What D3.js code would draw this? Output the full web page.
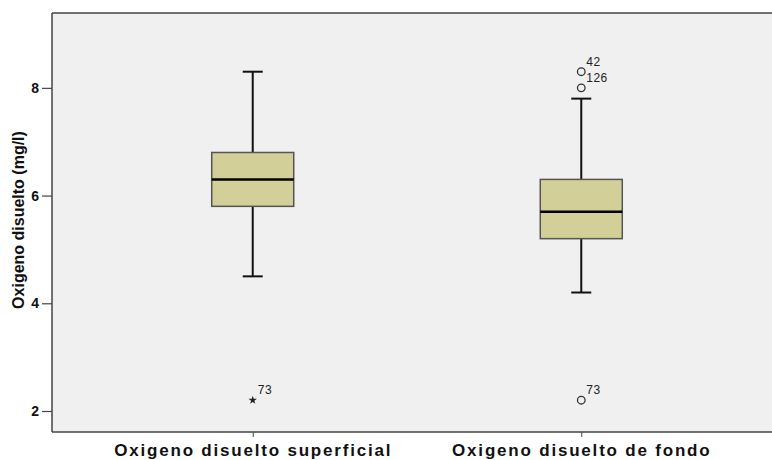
<!DOCTYPE html>
<html>
<head>
<meta charset="utf-8">
<script src="https://cdn.jsdelivr.net/npm/d3@7"></script>
<style>
  body { margin: 0; background: #fff; }
  svg { display: block; font-family: "Liberation Sans", Arial, sans-serif; }
</style>
</head>
<body>
<script>
// box plot: oxygen at surface vs bottom

var width = 772;
var height = 460;

var categories = ["Oxigeno disuelto superficial", "Oxigeno disuelto de fondo"];
var lowWhisker = [4.5, 4.2];
var q1 = [5.8, 5.2];
var median = [6.3, 5.7];
var q3 = [6.8, 6.3];
var highWhisker = [8.3, 7.8];
// outliers: [category index, value, case label, type]
var outliers = [
  [0, 2.2, "73", "extreme"],
  [1, 8.3, "42", "mild"],
  [1, 8.0, "126", "mild"],
  [1, 2.2, "73", "mild"]
];
var yTicks = [2, 4, 6, 8];

var plotLeft = 52, plotTop = 13, plotBottom = 432;

var xScale = d3.scalePoint()
               .domain(categories)
               .range([plotLeft, width + 10])
               .padding(0.611);

var yScale = d3.scaleLinear()
               .domain([1.61, 9.39])
               .range([plotBottom, plotTop]);

var svg = d3.select("body")
            .append("svg")
            .attr("width", width)
            .attr("height", height);

// plot background
svg.append("rect")
   .attr("x", plotLeft)
   .attr("y", plotTop)
   .attr("width", width - plotLeft)
   .attr("height", plotBottom - plotTop)
   .attr("fill", "#f0f0f0");

svg.append("line")
   .attr("x1", plotLeft).attr("x2", width)
   .attr("y1", plotTop).attr("y2", plotTop)
   .attr("stroke", "#444").attr("stroke-width", 1.5);

var boxW = 82;
var capW = 20;

var groups = svg.selectAll("g.box")
   .data(categories)
   .enter()
   .append("g")
   .attr("class", "box");

// whiskers
groups.append("line")
   .attr("x1", function(d){ return xScale(d); })
   .attr("x2", function(d){ return xScale(d); })
   .attr("y1", function(d, i){ return yScale(highWhisker[i]); })
   .attr("y2", function(d, i){ return yScale(lowWhisker[i]); })
   .attr("stroke", "#111").attr("stroke-width", 2);

[highWhisker, lowWhisker].forEach(function(arr){
  groups.append("line")
     .attr("x1", function(d){ return xScale(d) - capW / 2; })
     .attr("x2", function(d){ return xScale(d) + capW / 2; })
     .attr("y1", function(d, i){ return yScale(arr[i]); })
     .attr("y2", function(d, i){ return yScale(arr[i]); })
     .attr("stroke", "#111").attr("stroke-width", 2);
});

groups.append("rect")
   .attr("x", function(d){ return xScale(d) - boxW / 2; })
   .attr("y", function(d, i){ return yScale(q3[i]); })
   .attr("width", boxW)
   .attr("height", function(d, i){ return yScale(q1[i]) - yScale(q3[i]); })
   .attr("fill", "#d3cf98")
   .attr("stroke", "#555")
   .attr("stroke-width", 1.5);

groups.append("line")
   .attr("x1", function(d){ return xScale(d) - boxW / 2; })
   .attr("x2", function(d){ return xScale(d) + boxW / 2; })
   .attr("y1", function(d, i){ return yScale(median[i]); })
   .attr("y2", function(d, i){ return yScale(median[i]); })
   .attr("stroke", "#000").attr("stroke-width", 2.5);

// outliers
var outG = svg.selectAll("g.outlier")
   .data(outliers)
   .enter()
   .append("g")
   .attr("class", "outlier")
   .attr("transform", function(d){
     return "translate(" + xScale(categories[d[0]]) + "," + yScale(d[1]) + ")";
   });

outG.filter(function(d){ return d[3] === "mild"; })
   .append("circle")
   .attr("r", 3.8)
   .attr("fill", "none")
   .attr("stroke", "#333")
   .attr("stroke-width", 1.3);

outG.filter(function(d){ return d[3] === "extreme"; })
   .append("path")
   .attr("d", d3.symbol().type(d3.symbolStar).size(22))
   .attr("fill", "#222");

outG.append("text")
   .text(function(d){ return d[2]; })
   .attr("x", 5)
   .attr("y", -6)
   .attr("font-size", "12px")
   .attr("letter-spacing", "0.5px")
   .attr("fill", "#222");

// axes
var yAxis = d3.axisLeft(yScale)
              .tickValues(yTicks)
              .tickSize(10)
              .tickPadding(3);

svg.append("g")
   .attr("class", "y axis")
   .attr("transform", "translate(" + plotLeft + ",0)")
   .call(yAxis)
   .call(function(g){
     g.select(".domain").attr("stroke", "#444").attr("stroke-width", 1.5)
      .attr("d", "M0," + plotTop + "V" + plotBottom);
     g.selectAll(".tick line").attr("stroke", "#444").attr("stroke-width", 1.2);
     g.selectAll(".tick text")
      .attr("font-family", "'Liberation Sans', Arial, sans-serif")
      .attr("font-size", "14px")
      .attr("font-weight", "bold")
      .attr("fill", "#111");
   });

var xAxis = d3.axisBottom(xScale)
              .tickSize(5)
              .tickPadding(7);

svg.append("g")
   .attr("class", "x axis")
   .attr("transform", "translate(0," + plotBottom + ")")
   .call(xAxis)
   .call(function(g){
     g.select(".domain").attr("stroke", "#444").attr("stroke-width", 1.5)
      .attr("d", "M" + plotLeft + ",0H" + width);
     g.selectAll(".tick line").attr("stroke", "#444");
     g.selectAll(".tick text")
      .attr("font-family", "'Liberation Sans', Arial, sans-serif")
      .attr("font-size", "17px")
      .attr("font-weight", "bold")
      .attr("letter-spacing", "1.8px")
      .attr("fill", "#111");
   });

svg.append("text")
   .attr("transform", "translate(24," + 220 + ") rotate(-90)")
   .attr("text-anchor", "middle")
   .attr("font-size", "16px")
   .attr("font-weight", "bold")
   .attr("fill", "#111")
   .text("Oxigeno disuelto (mg/l)");
</script>
</body>
</html>
